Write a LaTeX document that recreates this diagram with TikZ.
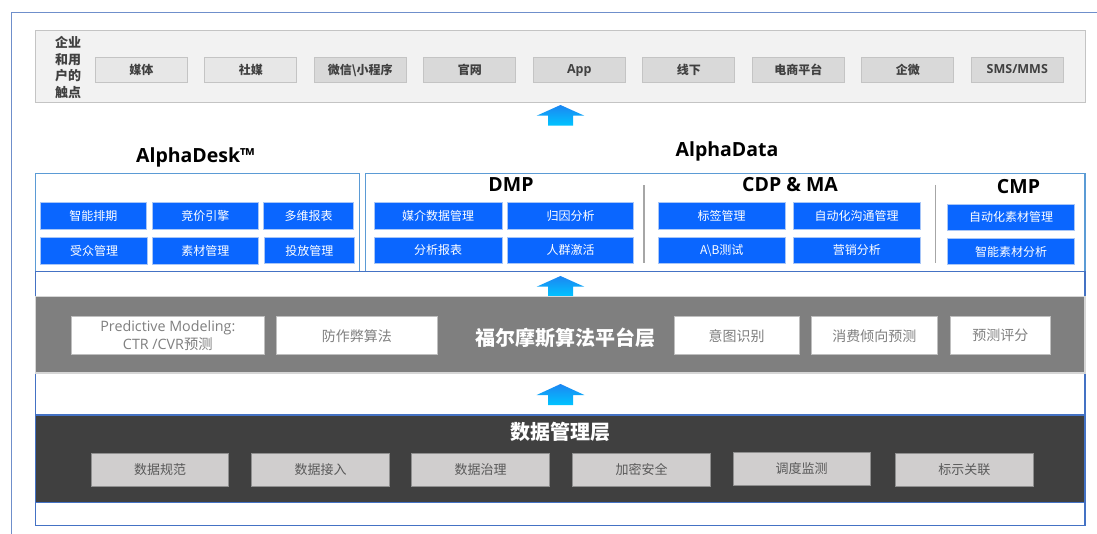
\documentclass[tikz,border=0pt]{standalone}
\usepackage{fontspec}
\setmainfont{Noto Sans CJK SC}
\newfontfamily\lat{Open Sans}
\definecolor{outerln}{HTML}{6F8FCB}
\definecolor{framebl}{HTML}{5B9BD5}
\definecolor{framedk}{HTML}{4472C4}
\definecolor{tpfill}{HTML}{F2F2F2}
\definecolor{tpline}{HTML}{C4C4C4}
\definecolor{tpboxa}{HTML}{E7E7E7}
\definecolor{tpboxb}{HTML}{D9D9D9}
\definecolor{tptext}{HTML}{404040}
\definecolor{boxblue}{HTML}{0A66FF}
\definecolor{bluebd}{HTML}{A8C6F7}
\definecolor{divgray}{HTML}{A6A6A6}
\definecolor{algband}{HTML}{7F7F7F}
\definecolor{algbandln}{HTML}{D6D6D6}
\definecolor{algbd}{HTML}{BFBFBF}
\definecolor{algtext}{HTML}{7F7F7F}
\definecolor{databand}{HTML}{404040}
\definecolor{datafill}{HTML}{D0CECE}
\definecolor{databd}{HTML}{8F8F8F}
\definecolor{datatext}{HTML}{595959}
\definecolor{arrblue}{HTML}{1C86F2}
\definecolor{arrcyan}{HTML}{00C4FF}
\tikzset{
  tpbox/.style={draw=tpline, fill=tpboxb, line width=0.9pt, minimum width=92pt, minimum height=24.6pt, inner sep=0pt, text=tptext, font=\fontsize{12}{14}\selectfont\bfseries},
  latbox/.style={font=\lat\fontsize{12.5}{14}\selectfont\bfseries, text height=9pt, text depth=2.5pt},
  bluebox/.style={draw=bluebd, fill=boxblue, line width=0.8pt, inner sep=0pt, minimum height=26.3pt, text=white, font=\fontsize{12}{14}\selectfont},
  algbox/.style={draw=algbd, fill=white, line width=0.8pt, inner sep=0pt, minimum height=38pt, text=algtext, font=\fontsize{14}{16}\selectfont},
  databox/.style={draw=databd, fill=datafill, line width=0.8pt, inner sep=0pt, minimum width=137.5pt, minimum height=33.3pt, text=datatext, font=\fontsize{13}{15}\selectfont},
  ttl/.style={font=\lat\bfseries\fontsize{19.5}{22}\selectfont, anchor=base, inner sep=0pt, text=black},
  panelframe/.style={draw=framebl, line width=1.1pt},
  divider/.style={draw=divgray, line width=1.4pt}
}
\newcommand{\uparr}[4]{% cx, top, base, bottom
  \shade[top color=arrblue, bottom color=arrcyan]
    (#1-12.5,#4) -- (#1-12.5,#3) -- (#1-23.8,#3) -- (#1,#2) -- (#1+23.8,#3) -- (#1+12.5,#3) -- (#1+12.5,#4) -- cycle;}
\begin{document}
\begin{tikzpicture}[x=1pt,y=-1pt]
\useasboundingbox (0,0) rectangle (1097,534);
\fill[white] (0,0) rectangle (1097,534);
% outer frame lines
\draw[outerln, line width=0.9pt] (11.3,534) -- (11.3,12.3) -- (1097,12.3);

% touchpoint panel
\draw[draw=tpline, fill=tpfill, line width=1pt] (35.7,30.7) rectangle (1085,102.7);
\node[align=center, inner sep=0pt, text=tptext, font=\fontsize{13}{16.8}\selectfont\bfseries] (tplabel) at (68,67.5) {企业\\和用\\户的\\触点};
\node[tpbox, fill=tpboxa] (t1) at (141.3,70) {媒体};
\node[tpbox, fill=tpboxa] (t2) at (250.8,70) {社媒};
\node[tpbox] (t3) at (360.3,70) {微信\textbackslash 小程序};
\node[tpbox] (t4) at (469.8,70) {官网};
\node[tpbox, latbox] (t5) at (579.3,70) {App};
\node[tpbox] (t6) at (688.8,70) {线下};
\node[tpbox] (t7) at (798.3,70) {电商平台};
\node[tpbox] (t8) at (907.8,70) {企微};
\node[tpbox, latbox] (t9) at (1017.3,70) {SMS/MMS};

% arrow 1
\uparr{560.5}{105}{115.7}{125.7}

% titles
\node[ttl] (tdesk) at (195.5,162.3) {AlphaDesk™};
\node[ttl] (tdata) at (727,157) {AlphaData};

% frames
\draw[panelframe] (35.7,173.7) rectangle (359.6,271.2);
\draw[panelframe] (365.4,173.5) rectangle (1085,271.7);

% AlphaDesk boxes
\node[bluebox, minimum width=106.7pt] (d1) at (93.35,215.85) {智能排期};
\node[bluebox, minimum width=106.3pt] (d2) at (205.45,215.85) {竞价引擎};
\node[bluebox, minimum width=90pt] (d3) at (308.6,215.85) {多维报表};
\node[bluebox, minimum width=106.7pt] (d4) at (94,250.85) {受众管理};
\node[bluebox, minimum width=106.3pt] (d5) at (205.45,250.85) {素材管理};
\node[bluebox, minimum width=90pt] (d6) at (309.3,250.5) {投放管理};

% DMP
\node[ttl] (tdmp) at (511,191.7) {DMP};
\node[bluebox, minimum width=128pt] (m1) at (438,215.85) {媒介数据管理};
\node[bluebox, minimum width=125.6pt] (m2) at (570.5,215.85) {归因分析};
\node[bluebox, minimum width=128pt] (m3) at (438,250.4) {分析报表};
\node[bluebox, minimum width=125.6pt] (m4) at (570.5,250.4) {人群激活};
\draw[divider] (644,185.5) -- (644,262.7);

% CDP & MA
\node[ttl] (tcdp) at (790,191.7) {CDP \& MA};
\node[bluebox, minimum width=127pt] (c1) at (721.5,215.85) {标签管理};
\node[bluebox, minimum width=127pt] (c2) at (856.5,215.85) {自动化沟通管理};
\node[bluebox, minimum width=127pt] (c3) at (721.8,250.4) {A\textbackslash B测试};
\node[bluebox, minimum width=127pt] (c4) at (856.8,250.4) {营销分析};
\draw[divider] (935.7,185) -- (935.7,262.7);

% CMP
\node[ttl] (tcmp) at (1018.5,193.3) {CMP};
\node[bluebox, minimum width=127pt, minimum height=25.7pt] (p1) at (1011.2,217.15) {自动化素材管理};
\node[bluebox, minimum width=127pt, minimum height=25.7pt] (p2) at (1011.2,251.5) {智能素材分析};

% lower frame
\draw[draw=framedk, line width=1.1pt] (35.7,271.7) rectangle (1085,525.5);

% arrow 2
\uparr{560.5}{276}{286.7}{296.7}

% algorithm band
\draw[draw=algbandln, fill=algband, line width=1.2pt] (35.7,296.7) rectangle (1085,373);
\node[algbox, minimum width=193.3pt, font=\fontsize{14.3}{18.3}\selectfont, align=center] (a1) at (167.85,335.7) {{\lat Predictive Modeling:}\\{\lat CTR /CVR}预测};
\node[algbox, minimum width=161.5pt] (a2) at (356.75,335.7) {防作弊算法};
\node[inner sep=0pt, text=white, font=\fontsize{20}{22}\selectfont\bfseries] (atitle) at (565,337.5) {福尔摩斯算法平台层};
\node[algbox, minimum width=125.3pt] (a3) at (736.65,335.7) {意图识别};
\node[algbox, minimum width=125.2pt] (a4) at (874.4,335.7) {消费倾向预测};
\node[algbox, minimum width=100.2pt] (a5) at (1000.4,335.7) {预测评分};

% arrow 3
\uparr{560.5}{384}{395}{405}

% data band
\draw[draw=framedk, fill=databand, line width=1.1pt] (35.7,415) rectangle (1085,502.7);
\node[inner sep=0pt, text=white, font=\fontsize{20}{22}\selectfont\bfseries] (dtitle) at (560,431.7) {数据管理层};
\node[databox] (b1) at (160,469.9) {数据规范};
\node[databox] (b2) at (320.55,469.9) {数据接入};
\node[databox] (b3) at (480.55,469.9) {数据治理};
\node[databox] (b4) at (641.5,469.9) {加密安全};
\node[databox] (b5) at (801.7,468.8) {调度监测};
\node[databox] (b6) at (964.4,469.9) {标示关联};
\end{tikzpicture}
\end{document}
